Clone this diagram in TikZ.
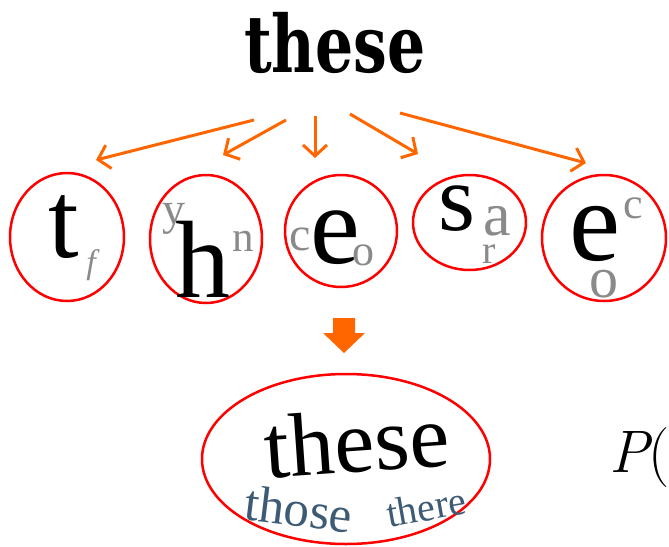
\documentclass[tikz,border=0pt]{standalone}
\usepackage{fontspec}
\setmainfont{Liberation Serif}
\newfontfamily\bitmapfont{DejaVu Serif}
\newfontfamily\lmfont{Latin Modern Roman}
\usepackage{graphicx}
\usepackage{xcolor}
\usetikzlibrary{shapes.geometric,arrows.meta}
\definecolor{fanorange}{HTML}{FF6600}
\definecolor{ringred}{HTML}{FF0000}
\definecolor{altgrey}{HTML}{8A8A8A}
\definecolor{candblue}{HTML}{3E5B75}
\newcommand{\fsz}[1]{\fontsize{#1}{#1}\selectfont}

\begin{document}
\begin{tikzpicture}[x=1pt, y=-1pt,
    ring/.style={draw=ringred, line width=2.5pt, ellipse, inner sep=0pt},
    glyph/.style={inner sep=0pt, anchor=base},
    alt/.style={glyph, text=altgrey},
    cand/.style={inner sep=0pt, text=candblue},
    fan/.style={draw=fanorange, line width=3pt,
                -{Straight Barb[length=11pt,width=24pt]}}
  ]
  \useasboundingbox (0,0) rectangle (669,546);

  % scanned word
  \node[glyph, font=\bitmapfont\bfseries\fsz{60}] (src) at (335,72)
    {\scalebox{1}[1.32]{these}};

  % fan out to the letters
  \foreach \i/\sx/\sy/\ex/\ey in {1/254/120/96/160, 2/286/120/223/155,
      3/315/116/315/158, 4/350/114/418/154, 5/400/113/586/163}
  {
    \coordinate (from\i) at (\sx,\sy);
    \coordinate (to\i) at (\ex,\ey);
    \draw[fan] (from\i) -- (to\i);
  }

  % letter rings
  \node[ring, minimum width=114pt, minimum height=128pt] (r1) at (67,237) {};
  \node[ring, minimum width=112pt, minimum height=128pt] (r2) at (206,239) {};
  \node[ring, minimum width=112pt, minimum height=112pt] (r3) at (341,231) {};
  \node[ring, minimum width=113pt, minimum height=95pt]  (r4) at (469.5,222.5) {};
  \node[ring, minimum width=124pt, minimum height=126pt] (r5) at (604,238) {};

  % best letters
  \node[glyph, font=\fsz{110}] (t1) at (64,257) {t};
  \node[glyph, font=\fsz{110}] (h2) at (203,297) {h};
  \node[glyph, font=\fsz{112}] (e3) at (335,263) {e};
  \node[glyph, font=\fsz{95}]  (s4) at (457,230) {s};
  \node[glyph, font=\fsz{115}] (e5) at (595,260) {e};

  % other candidates
  \node[alt, font=\itshape\fsz{34}] (f1) at (91,273) {f};
  \node[alt, font=\fsz{46}] (y2) at (174,224) {y};
  \node[alt, font=\fsz{43}] (n2) at (243,251) {n};
  \node[alt, font=\fsz{48}] (c3) at (300,250) {c};
  \node[alt, font=\fsz{44}] (o3) at (363,265) {o};
  \node[alt, font=\fsz{62}] (a4) at (497,235) {a};
  \node[alt, font=\fsz{40}] (r4b) at (489,263) {r};
  \node[alt, font=\fsz{44}] (c5) at (633,218) {c};
  \node[alt, font=\fsz{58}] (o5) at (604,297) {o};

  % down arrow
  \fill[fanorange] (333,318) -- (355,318) -- (355,333) -- (365,333)
    -- (344,353) -- (323,333) -- (333,333) -- cycle;

  % word ring
  \node[ring, minimum width=288pt, minimum height=170pt] (wring) at (346,459) {};
  \node[inner sep=0pt, font=\fsz{90}, rotate=4] (best) at (357,441) {these};
  \node[cand, font=\fsz{51}, rotate=-7] (those) at (299,509) {those};
  \node[cand, font=\fsz{40}, rotate=10] (there) at (426,507) {there};

  \node[inner sep=0pt, anchor=base west, font=\lmfont\fsz{60}] (prob) at (609,472)
    {\itshape P\upshape(};
\end{tikzpicture}
\end{document}
